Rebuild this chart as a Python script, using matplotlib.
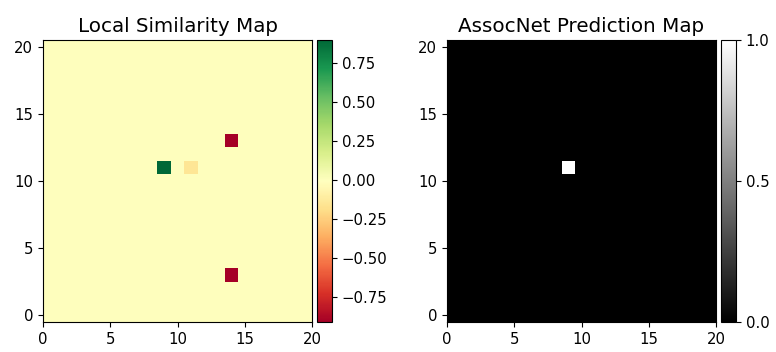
import matplotlib
matplotlib.use("Agg")
import matplotlib.pyplot as plt
import numpy as np

grid_size = 21

# local similarity: nonzero cells (col, row, value)
sim_cols = [9, 11, 14, 14]
sim_rows = [11, 11, 13, 3]
sim_vals = [0.90, -0.15, -0.91, -0.91]

# prediction map: active cells
pred_cols = [9]
pred_rows = [11]
pred_vals = [1.0]

sim_map = np.zeros((grid_size, grid_size))
for c, r, v in zip(sim_cols, sim_rows, sim_vals):
    sim_map[r, c] = v

pred_map = np.zeros((grid_size, grid_size))
for c, r, v in zip(pred_cols, pred_rows, pred_vals):
    pred_map[r, c] = v

W, H = 776, 352
fig = plt.figure(figsize=(W / 100, H / 100), dpi=100)

ax1 = fig.add_axes([43 / W, 30 / H, 269 / W, 282 / H])
cax1 = fig.add_axes([317 / W, 30 / H, 15 / W, 282 / H])
ax2 = fig.add_axes([447 / W, 30 / H, 269 / W, 282 / H])
cax2 = fig.add_axes([721 / W, 30 / H, 15 / W, 282 / H])

im1 = ax1.imshow(sim_map, cmap='RdYlGn', origin='lower', interpolation='nearest', aspect='auto')
cb1 = fig.colorbar(im1, cax=cax1)
cb1.set_ticks([-0.75, -0.5, -0.25, 0, 0.25, 0.5, 0.75])
ax1.set_title('Local Similarity Map', fontsize=14.3)

im2 = ax2.imshow(pred_map, cmap='gray', origin='lower', interpolation='nearest', aspect='auto', vmin=0, vmax=1)
cb2 = fig.colorbar(im2, cax=cax2)
cb2.set_ticks([0, 0.5, 1.0])
ax2.set_title('AssocNet Prediction Map', fontsize=14.3)

for ax in (ax1, ax2):
    ax.set_xlim(0, 20)
    ax.set_ylim(-0.5, 20.5)
    ax.set_xticks([0, 5, 10, 15, 20])
    ax.set_yticks([0, 5, 10, 15, 20])
    ax.tick_params(labelsize=10.7)
for cax in (cax1, cax2):
    cax.tick_params(labelsize=10.7)

fig.savefig('out.png', dpi=100)
